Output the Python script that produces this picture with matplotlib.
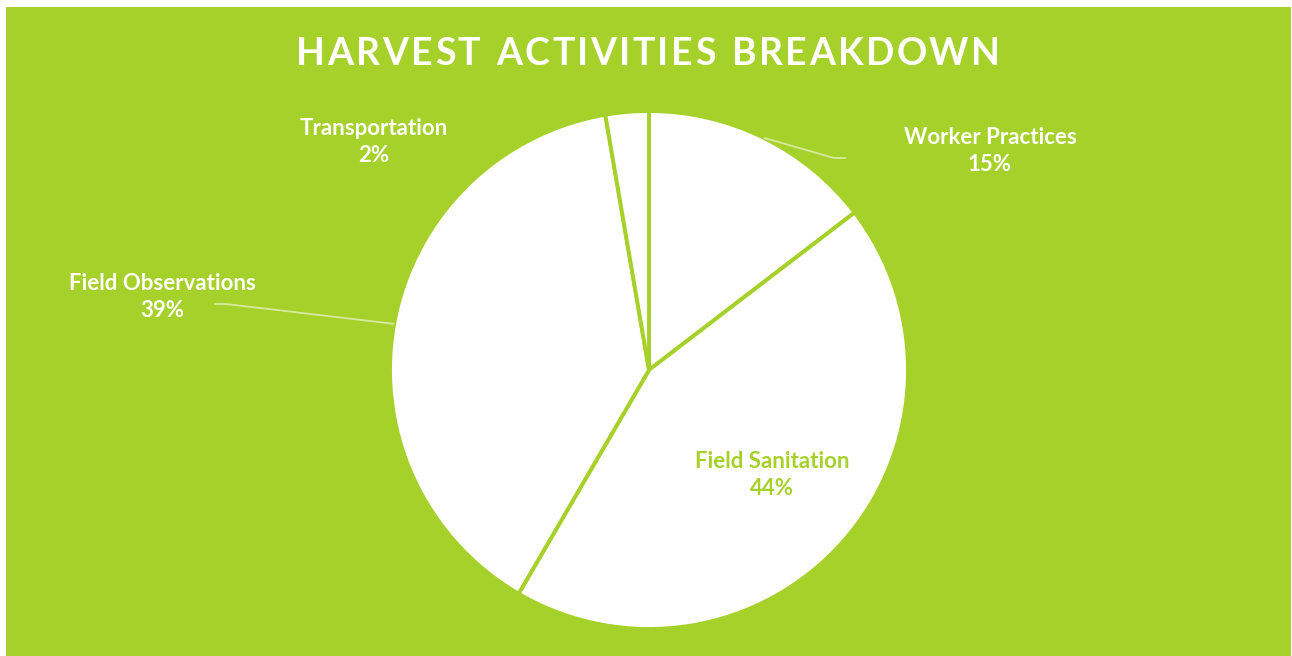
import numpy as np
import matplotlib
matplotlib.use("Agg")
import matplotlib.pyplot as plt
from matplotlib.patches import Rectangle

# ---- data ----
categories = ["Worker Practices", "Field Sanitation", "Field Observations", "Transportation"]
values = [14.6, 43.8, 38.9, 2.7]
pct_labels = ["15%", "44%", "39%", "2%"]
title = "HARVEST ACTIVITIES BREAKDOWN"

# ---- style / layout ----
GREEN = "#A6D12A"
W, H = 1292, 656
FONT = "Lato"
label_pos = [(990, 151), (772, 475), (162, 297), (374, 142)]   # pixel coords (x, y from top)
label_colors = ["white", GREEN, "white", "white"]
leader = [True, False, True, False]
leader_end = [(846, 158), None, (214, 304), None]
leader_knee = [(834, 158), None, (226, 304), None]

fig = plt.figure(figsize=(W / 100, H / 100), dpi=100)
fig.patch.set_facecolor("white")
ax = fig.add_axes([0, 0, 1, 1])
ax.set_xlim(0, W)
ax.set_ylim(0, H)
ax.axis("off")

def Y(y):
    return H - y

ax.add_patch(Rectangle((6, 0), 1285, Y(7), facecolor=GREEN, edgecolor="none", zorder=0))

cx, cy, R = 649, 370, 259
wedges, _ = ax.pie(values, startangle=90, counterclock=False, center=(cx, Y(cy)), radius=R,
                   colors=["white"] * len(values),
                   wedgeprops=dict(edgecolor=GREEN, linewidth=2.8, zorder=2))
ax.set_xlim(0, W)
ax.set_ylim(0, H)
ax.set_aspect("auto")
ax.axis("off")

for i, w in enumerate(wedges):
    lx, ly = label_pos[i]
    ax.text(lx, Y(ly), f"{categories[i]}\n{pct_labels[i]}", ha="center", va="center",
            fontsize=16, fontweight="bold", family=FONT, color=label_colors[i],
            linespacing=1.3, zorder=4)
    if leader[i]:
        ang = np.deg2rad((w.theta1 + w.theta2) / 2)
        sx, sy = cx + R * np.cos(ang), Y(cy) + R * np.sin(ang)
        kx, ky = leader_knee[i]
        ex, ey = leader_end[i]
        ax.plot([sx, kx, ex], [sy, Y(ky), Y(ey)], color="white", alpha=0.55, lw=1.3,
                solid_capstyle="butt", zorder=3)

# title with letter spacing
fig.canvas.draw()
renderer = fig.canvas.get_renderer()
tracking = 2.4
fs = 27
widths = []
for ch in title:
    t = ax.text(0, 0, ch if ch != " " else "n", fontsize=fs, fontweight="bold", family=FONT)
    bb = t.get_window_extent(renderer)
    widths.append(bb.width if ch != " " else bb.width * 0.55)
    t.remove()
total = sum(widths) + tracking * (len(title) - 1)
x = 648 - total / 2
for ch, wd in zip(title, widths):
    if ch != " ":
        ax.text(x, Y(54), ch, fontsize=fs, fontweight="bold", family=FONT, color="white",
                ha="left", va="center", zorder=5)
    x += wd + tracking

fig.savefig("out.png", dpi=100, facecolor=fig.get_facecolor())
